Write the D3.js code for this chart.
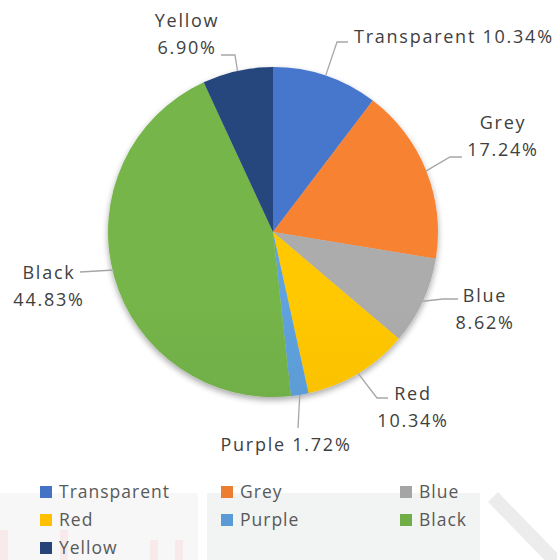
<!DOCTYPE html>
<html><head><meta charset="utf-8">
<script src="https://cdn.jsdelivr.net/npm/d3@7"></script>
<style>body{margin:0;background:#fff}svg{display:block}</style>
</head><body>
<svg id="c" width="557" height="560"></svg>
<script>
const categories = ["Transparent","Grey","Blue","Red","Purple","Black","Yellow"];
const values = [10.34,17.24,8.62,10.34,1.72,44.83,6.90];
const colors = ["#4472C4","#ED7D31","#A5A5A5","#FFC000","#5B9BD5","#70AD47","#264478"];
const labelLines = [["Transparent 10.34%"],["Grey","17.24%"],["Blue","8.62%"],["Red","10.34%"],["Purple 1.72%"],["Black","44.83%"],["Yellow","6.90%"]];

const svg = d3.select("#c");
const cx = 273, cy = 232, r = 165;
const defs = svg.append("defs");

// faint background watermark
const wm = svg.append("g");
wm.append("rect").attr("x",0).attr("y",493).attr("width",198).attr("height",67).attr("fill","#f7f7f7");
wm.append("rect").attr("x",207).attr("y",493).attr("width",273).attr("height",67).attr("fill","#f2f3f3");
wm.append("line").attr("x1",493).attr("y1",497).attr("x2",560).attr("y2",566).attr("stroke","#ececec").attr("stroke-width",14);
[[0,530,8,30],[60,530,8,30],[150,540,8,20],[175,540,8,20]].forEach(b=>
  wm.append("rect").attr("x",b[0]).attr("y",b[1]).attr("width",b[2]).attr("height",b[3]).attr("fill","#f8eaea"));

// shadow filter
const f = defs.append("filter").attr("id","sh").attr("x","-20%").attr("y","-20%").attr("width","140%").attr("height","140%");
f.append("feGaussianBlur").attr("in","SourceAlpha").attr("stdDeviation",3);
f.append("feOffset").attr("dx",0).attr("dy",3).attr("result","b");
f.append("feComponentTransfer").append("feFuncA").attr("type","linear").attr("slope",0.35);
const fm = f.append("feMerge"); fm.append("feMergeNode"); fm.append("feMergeNode").attr("in","SourceGraphic");

colors.forEach((c,i)=>{
  const g = defs.append("linearGradient").attr("id","g"+i).attr("gradientUnits","userSpaceOnUse")
    .attr("x1",0).attr("y1",cy-r).attr("x2",0).attr("y2",cy+r);
  g.append("stop").attr("offset","0%").attr("stop-color",d3.color(c).brighter(0.12));
  g.append("stop").attr("offset","100%").attr("stop-color",d3.color(c).darker(0.22));
});

const pie = d3.pie().sort(null).value(d=>d)(values);
const arc = d3.arc().innerRadius(0).outerRadius(r);
const pg = svg.append("g").attr("transform",`translate(${cx},${cy})`).attr("filter","url(#sh)");
pg.selectAll("path").data(pie).join("path").attr("d",arc).attr("fill",(d,i)=>`url(#g${i})`);

// leader lines
const leaders = [
  [[0],[337,42],[348,42]],
  [[1],[450,157],[462,157]],
  [[2],[443,299],[458,299]],
  [[3],[377,398],[388,398]],
  [[4],[298,428]],
  [[5],[80,272]],
  [[6],[235,55],[221,55]]
];
const lg = svg.append("g");
leaders.forEach(l=>{
  const d = pie[l[0][0]];
  const a = (d.startAngle+d.endAngle)/2;
  let start = [cx + r*Math.sin(a), cy - r*Math.cos(a)];
  if (l[0][0]===5) start = [cx + r*Math.sin(a), 270];
  const pts = [start].concat(l.slice(1));
  lg.append("path").attr("d",d3.line()(pts)).attr("fill","none").attr("stroke","#a6a6a6").attr("stroke-width",1.3);
});

// data labels
const labelPos = [
  {x:354,y:43,anchor:"start"},
  {x:503,y:129,anchor:"middle"},
  {x:485,y:302,anchor:"middle"},
  {x:413,y:400,anchor:"middle"},
  {x:286,y:451,anchor:"middle"},
  {x:49,y:279,anchor:"middle"},
  {x:187,y:27,anchor:"middle"}
];
const tg = svg.append("g").attr("font-family","'Open Sans', 'Noto Sans', sans-serif").attr("font-size",18).attr("fill","#404040");
labelLines.forEach((ls,i)=>{
  const p = labelPos[i];
  const t = tg.append("text").attr("x",p.x).attr("y",p.y).attr("text-anchor",p.anchor).attr("letter-spacing",1.75);
  ls.forEach((s,j)=>t.append("tspan").attr("x",p.x).attr("dy",j?27:0).text(s));
});

// legend
const legX = [40,221,400], legY = [492,520,548];
const leg = svg.append("g").attr("font-family","'Open Sans', 'Noto Sans', sans-serif").attr("font-size",17.5).attr("fill","#595959");
categories.forEach((c,i)=>{
  const x = legX[i%3], y = legY[Math.floor(i/3)];
  leg.append("rect").attr("x",x).attr("y",y-6).attr("width",12).attr("height",12).attr("fill",colors[i]);
  leg.append("text").attr("x",x+19).attr("y",y+6).attr("letter-spacing",1).text(c);
});
</script>
</body></html>
